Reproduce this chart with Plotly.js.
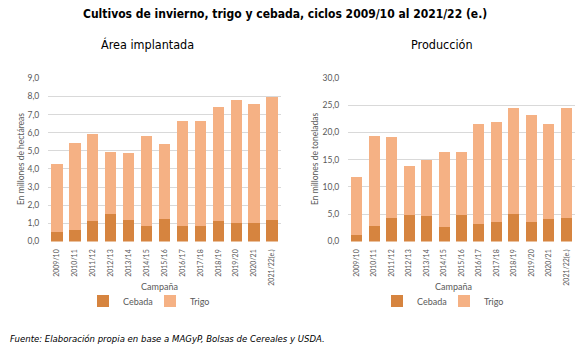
<!DOCTYPE html>
<html><head><meta charset="utf-8">
<script src="https://cdn.plot.ly/plotly-3.0.1.min.js"></script>
<style>html,body{margin:0;padding:0;background:#fff}#chart{width:576px;height:351px}</style>
</head><body><div id="chart"></div>
<script>
const campanas = ['2009/10','2010/11','2011/12','2012/13','2013/14','2014/15','2015/16','2016/17','2017/18','2018/19','2019/20','2020/21','2021/22(e.)'];
// Área implantada (millones de hectáreas)
const areaCebada = [0.50,0.61,1.11,1.49,1.20,0.83,1.22,0.83,0.83,1.11,1.00,1.00,1.20];
const areaTrigo  = [3.75,4.81,4.83,3.45,3.67,4.98,4.13,5.81,5.81,6.30,6.80,6.58,6.78];
// Producción (millones de toneladas)
const prodCebada = [1.28,2.92,4.38,4.93,4.69,2.74,4.93,3.23,3.65,4.99,3.65,4.14,4.38];
const prodTrigo  = [10.52,16.48,14.72,8.97,10.16,13.63,11.44,18.32,18.20,19.41,19.54,17.34,20.02];

const cCebada = '#D6843F';
const cTrigo = '#F5B184';
const fTick = 'Lato, Liberation Sans, sans-serif';
const fHead = 'DejaVu Sans Condensed, DejaVu Sans, sans-serif';
const grey = '#595959';

const traces = [
  {type:'bar', x:campanas, y:areaCebada, name:'Cebada', marker:{color:cCebada}, xaxis:'x', yaxis:'y', legend:'legend', hoverinfo:'none'},
  {type:'bar', x:campanas, y:areaTrigo, name:'Trigo', marker:{color:cTrigo}, xaxis:'x', yaxis:'y', legend:'legend', hoverinfo:'none'},
  {type:'bar', x:campanas, y:prodCebada, name:'Cebada', marker:{color:cCebada}, xaxis:'x2', yaxis:'y2', legend:'legend2', hoverinfo:'none'},
  {type:'bar', x:campanas, y:prodTrigo, name:'Trigo', marker:{color:cTrigo}, xaxis:'x2', yaxis:'y2', legend:'legend2', hoverinfo:'none'}
];

const W = 576, H = 351;
const px = v => v / W, py = v => (H - v) / H;

const xCommon = {type:'category', tickangle:-90, tickfont:{family:fTick, size:7, color:grey}, showgrid:false, zeroline:false, showline:false, ticks:'outside', ticklen:4, tickcolor:'rgba(0,0,0,0)', fixedrange:true};
const yCommon = {tickfont:{family:fTick, size:8.5, color:grey}, showgrid:true, gridcolor:'#D9D9D9', gridwidth:1, zeroline:false, showline:false, tickformat:'.1f', ticks:'outside', ticklen:6, tickcolor:'rgba(0,0,0,0)', fixedrange:true};
const legCommon = {orientation:'h', xanchor:'left', yanchor:'middle', font:{family:fTick, size:9, color:grey}, itemwidth:30, entrywidth:22, entrywidthmode:'pixels', bgcolor:'rgba(0,0,0,0)', traceorder:'normal'};

const layout = {
  width:W, height:H,
  margin:{l:0,r:0,t:0,b:0},
  paper_bgcolor:'#fff', plot_bgcolor:'#fff',
  separators:', ',
  barmode:'stack', bargap:0.37,
  xaxis:Object.assign({}, xCommon, {domain:[px(48), px(281)], anchor:'y'}),
  yaxis:Object.assign({}, yCommon, {domain:[py(241.5), py(78.3)], range:[0,9], dtick:1, anchor:'x'}),
  xaxis2:Object.assign({}, xCommon, {domain:[px(348), px(575)], anchor:'y2'}),
  yaxis2:Object.assign({}, yCommon, {domain:[py(241.5), py(77.7)], range:[0,30], dtick:5, anchor:'x2'}),
  legend:Object.assign({}, legCommon, {x:px(83), y:py(301)}),
  legend2:Object.assign({}, legCommon, {x:px(377), y:py(301)}),
  annotations:[
    {text:'<b>Cultivos de invierno, trigo y cebada, ciclos 2009/10 al 2021/22 (e.)</b>', x:px(285), y:py(14), xref:'paper', yref:'paper', showarrow:false, xanchor:'center', yanchor:'middle', font:{family:fHead, size:12, color:'#000'}},
    {text:'Área implantada', x:px(147.5), y:py(45), xref:'paper', yref:'paper', showarrow:false, xanchor:'center', yanchor:'middle', font:{family:fHead, size:12.5, color:'#000'}},
    {text:'Producción', x:px(442), y:py(45), xref:'paper', yref:'paper', showarrow:false, xanchor:'center', yanchor:'middle', font:{family:fHead, size:12.5, color:'#000'}},
    {text:'En millones de hectáreas', x:px(21), y:py(159), xref:'paper', yref:'paper', showarrow:false, textangle:-90, xanchor:'center', yanchor:'middle', font:{family:fTick, size:8.5, color:grey}},
    {text:'En millones de toneladas', x:px(315), y:py(159), xref:'paper', yref:'paper', showarrow:false, textangle:-90, xanchor:'center', yanchor:'middle', font:{family:fTick, size:8.5, color:grey}},
    {text:'Campaña', x:px(159), y:py(286), xref:'paper', yref:'paper', showarrow:false, xanchor:'center', yanchor:'middle', font:{family:fTick, size:9, color:grey}},
    {text:'Campaña', x:px(453), y:py(286), xref:'paper', yref:'paper', showarrow:false, xanchor:'center', yanchor:'middle', font:{family:fTick, size:9, color:grey}},
    {text:'<i>Fuente: Elaboración propia en base a MAGyP, Bolsas de Cereales y USDA.</i>', x:px(8), y:py(338), xref:'paper', yref:'paper', showarrow:false, xanchor:'left', yanchor:'middle', font:{family:fHead, size:9.5, color:'#000'}}
  ]
};

Plotly.newPlot('chart', traces, layout, {displayModeBar:false, staticPlot:true});
</script>
</body></html>
